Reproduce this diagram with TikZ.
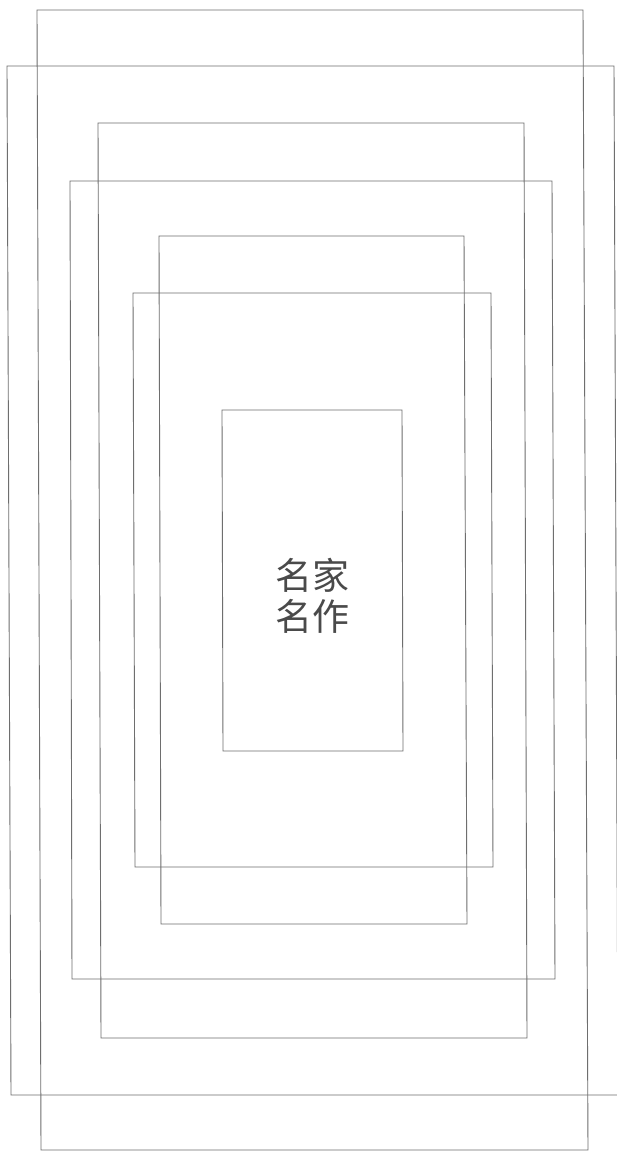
\documentclass[tikz,border=0pt]{standalone}
\usepackage{fontspec}
\newfontfamily\cjk{Noto Sans CJK SC}
\definecolor{linegray}{HTML}{6E6E6E}
\definecolor{textgray}{HTML}{4A4A4A}
\begin{document}
\begin{tikzpicture}[x=1pt,y=-1pt,
  frame/.style={draw=linegray,line width=0.9pt,line join=miter},
  title/.style={text=textgray,font=\cjk\fontsize{37}{41}\selectfont,align=center,inner sep=0pt}]
\useasboundingbox[fill=white] (0,0) rectangle (617,1152);
\draw[frame] (37,10) -- (583,10) -- (588,1150) -- (41,1150) -- cycle;
\draw[frame] (7,66) -- (614,66) -- (618,1095) -- (11,1095) -- cycle;
\draw[frame] (98,123) -- (524,123) -- (527,1038) -- (101,1038) -- cycle;
\draw[frame] (70,181) -- (552,181) -- (555,979) -- (72,979) -- cycle;
\draw[frame] (159,236) -- (464,236) -- (467,924) -- (161,924) -- cycle;
\draw[frame] (133,293) -- (491,293) -- (493,867) -- (135,867) -- cycle;
\draw[frame] (222,410) -- (402,410) -- (403,751) -- (223,751) -- cycle;
\node[title] (t) at (312.5,596) {名家\\名作};
\end{tikzpicture}
\end{document}
